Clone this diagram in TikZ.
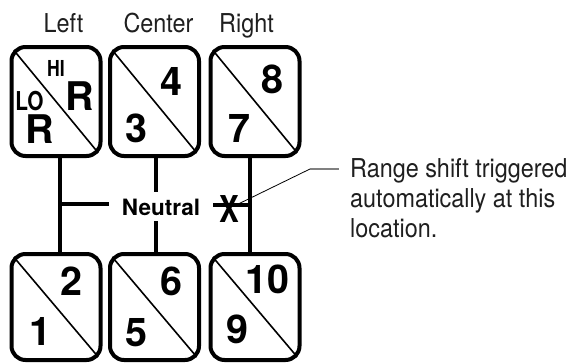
\documentclass[tikz,border=0pt]{standalone}
\usepackage{fontspec}
\setsansfont{TeX Gyre Heros}
\newfontfamily\narrowfont[FakeStretch=0.9]{TeX Gyre Heros}
\newfontfamily\heavyfont{TeX Gyre Heros}
\newfontfamily\squeezefont[FakeStretch=0.8]{TeX Gyre Heros}

\tikzset{
  gate/.style={draw, line width=4pt, outer sep=2pt, rounded corners=14pt,
    minimum width=89pt, inner sep=0pt},
  num/.style={anchor=base, inner sep=0pt,
    font={\heavyfont\bfseries\fontsize{39.5}{39.5}\selectfont}},
  tag/.style={anchor=base, inner sep=0pt,
    font={\squeezefont\bfseries\fontsize{#1}{#1}\selectfont}},
  lbl/.style={anchor=base, inner sep=0pt, text=black!88,
    font={\narrowfont\fontsize{26}{30}\selectfont}},
  rail/.style={line width=4pt},
  slash/.style={line width=1.6pt},
}

\begin{document}
\begin{tikzpicture}[x=1pt, y=-1pt]
    \useasboundingbox (0,0) rectangle (571,364);
    % gate boxes
    \node[gate, minimum height=109pt] (rev) at (56,101.5) {};
    \node[gate, minimum height=109pt] (g34) at (154.5,101.5) {};
    \node[gate, minimum height=109pt] (g78) at (255,101.5) {};
    \node[gate, minimum height=106pt] (g12) at (56,307) {};
    \node[gate, minimum height=106pt] (g56) at (154.5,307) {};
    \node[gate, minimum height=106pt] (g910) at (255,307) {};
    \foreach \g in {rev,g34,g78,g12,g56,g910} {
        \begin{scope}
            \clip[rounded corners=16pt] (\g.north west) rectangle (\g.south east);
            \draw[slash] (\g.north west) -- (\g.south east);
        \end{scope}
    }
    % column titles
    \node[lbl] (left) at (63.5,32) {Left};
    \node[lbl] (center) at (158.5,32) {Center};
    \node[lbl] (right) at (246.5,32) {Right};
    % gears
    \node[tag=22] (hi) at (56,76) {HI};
    \node[num] (rhi) at (79.5,110) {R};
    \node[tag=26] (lo) at (29.5,110) {LO};
    \node[num] (rlo) at (39.5,143) {R};
    \node[num] (n4) at (171,95) {4};
    \node[num] (n3) at (136,142) {3};
    \node[num] (n8) at (272.5,93) {8};
    \node[num] (n7) at (239,142) {7};
    \node[num] (n2) at (71,295) {2};
    \node[num] (n1) at (40,345) {1};
    \node[num] (n6) at (171,295) {6};
    \node[num] (n5) at (136,346) {5};
    \node[num] (n10) at (267.5,293) {10};
    \node[num] (n9) at (237.5,343) {9};
    % neutral rails
    \node[anchor=base, inner xsep=13pt, inner ysep=6pt,
        font={\heavyfont\bfseries\fontsize{22.5}{22.5}\selectfont}] (neu) at (161,215) {Neutral};
    \coordinate (jl) at (60,204);
    \coordinate (jc) at (156,204);
    \coordinate (jr) at (250,205);
    \draw[rail] (jl |- rev.south) -- (jl |- g12.north);
    \draw[rail] (jr |- g78.south) -- (jr |- g910.north);
    \draw[rail] (jc |- g34.south) -- (jc |- neu.north);
    \draw[rail] (jc |- neu.south) -- (jc |- g56.north);
    \draw[rail] (jl) -- (jl -| neu.west);
    \draw[rail] (jr -| neu.east) -- (jr);
    \node[tag=37] (shiftpt) at (229,222) {X};
    % callout
    \coordinate (bend) at (310,169);
    \coordinate (tip) at (339,169);
    \draw[line width=0.8pt] (shiftpt) -- (bend);
    \draw[black!50, line width=1.3pt] (bend) -- (tip);
    \node[lbl, anchor=north west, align=left] (note) at (350,158)
        {Range shift triggered\\automatically at this\\location.};
\end{tikzpicture}
\end{document}
